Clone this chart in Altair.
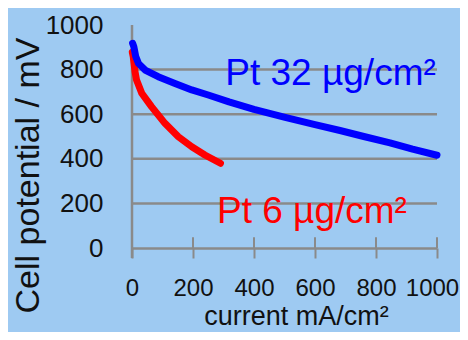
import altair as alt
import pandas as pd

# ---- data ----
blue_current = [2, 6, 12, 21, 43, 86, 141, 196, 250, 318, 400, 502, 600, 682, 760, 846, 920, 1000]
blue_mv = [918, 903, 860, 828, 798, 768, 738, 709, 686, 655, 622, 586, 553, 527, 500, 471, 443, 416]

red_current = [1, 4, 10, 15, 32, 64, 108, 152, 196, 239, 290]
red_mv = [878, 858, 790, 753, 694, 634, 559, 499, 454, 417, 380]

x_ticks = [0, 200, 400, 600, 800, 1000]
y_ticks = [0, 200, 400, 600, 800, 1000]
grid_values = [200, 400, 600, 800]

label_texts = ["Pt 32 µg/cm²", "Pt 6 µg/cm²"]
label_current = [651, 590]
label_mv = [731, 110]
label_colors = ["#0000ff", "#ff0000"]

# ---- tables ----
blue_df = pd.DataFrame({"current": blue_current, "mv": blue_mv, "i": range(len(blue_current))})
red_df = pd.DataFrame({"current": red_current, "mv": red_mv, "i": range(len(red_current))})
grid_df = pd.DataFrame({"mv": grid_values})
tick_df = pd.DataFrame({"current": x_ticks[1:]})
lab_df = pd.DataFrame({"t": label_texts, "current": label_current, "mv": label_mv, "c": label_colors})

FONT = "Liberation Sans"
GRAY = "#8a8a8a"
xs = alt.Scale(domain=[0, 1000], nice=False, zero=False)
ys = alt.Scale(domain=[0, 1000], nice=False, zero=False)

grid = alt.Chart(grid_df).mark_rule(color=GRAY, strokeWidth=2.5).encode(
    y=alt.Y("mv:Q", scale=ys, axis=alt.Axis(
        values=y_ticks, format="d", domain=False, ticks=False, grid=False,
        labelFontSize=26, labelFont=FONT, labelColor="#111111", labelPadding=29,
        title="Cell potential / mV", titleFont=FONT, titleFontSize=34,
        titleFontWeight="normal", titleColor="#111111",
        titleX=-94, titleY=150, titleAlign="center", titleBaseline="alphabetic", titleAngle=270)),
    x=alt.datum(0, scale=xs, axis=alt.Axis(
        values=x_ticks, format="d", domain=True, domainColor=GRAY, domainWidth=2.5,
        ticks=True, tickColor=GRAY, tickWidth=2, tickSize=10, grid=False,
        labelFontSize=24, labelFont=FONT, labelColor="#111111", labelPadding=18,
        labelFlush=False,
        labelOffset={"expr": "datum.value == 1000 ? -5 : 0"},
        title="current mA/cm²", titleFont=FONT, titleFontSize=27,
        titleFontWeight="normal", titleColor="#111111",
        titleX=164, titleY=76, titleAlign="center", titleBaseline="alphabetic")),
    x2=alt.datum(1000),
)

ticks_up = alt.Chart(tick_df).mark_rule(color=GRAY, strokeWidth=2).encode(
    x=alt.X("current:Q", scale=xs),
    y=alt.datum(0),
    y2=alt.datum(48),
)

y_line = alt.Chart(pd.DataFrame({"current": [0]})).mark_rule(color=GRAY, strokeWidth=2.5).encode(
    x=alt.X("current:Q", scale=xs),
    y=alt.datum(-45),
    y2=alt.datum(1000),
)

red = alt.Chart(red_df).mark_line(color="#ff0000", strokeWidth=7, strokeCap="round", strokeJoin="round").encode(
    x=alt.X("current:Q", scale=xs),
    y=alt.Y("mv:Q", scale=ys),
    order="i:Q",
)

blue = alt.Chart(blue_df).mark_line(color="#0000ff", strokeWidth=7, strokeCap="round", strokeJoin="round").encode(
    x=alt.X("current:Q", scale=xs),
    y=alt.Y("mv:Q", scale=ys),
    order="i:Q",
)

labels = alt.Chart(lab_df).mark_text(font=FONT, fontSize=37, align="center", baseline="alphabetic").encode(
    x=alt.X("current:Q", scale=xs),
    y=alt.Y("mv:Q", scale=ys),
    text="t:N",
    color=alt.Color("c:N", scale=None),
)

chart = alt.layer(grid, ticks_up, y_line, red, blue, labels).properties(
    width=305, height=223,
    autosize=alt.AutoSizeParams(type="none"),
    padding={"left": 124, "top": 17, "right": 23, "bottom": 84},
    background="#9ecaf2",
).configure_view(stroke=None)

chart.save("out.html", embed_options={"renderer": "svg", "actions": False})
